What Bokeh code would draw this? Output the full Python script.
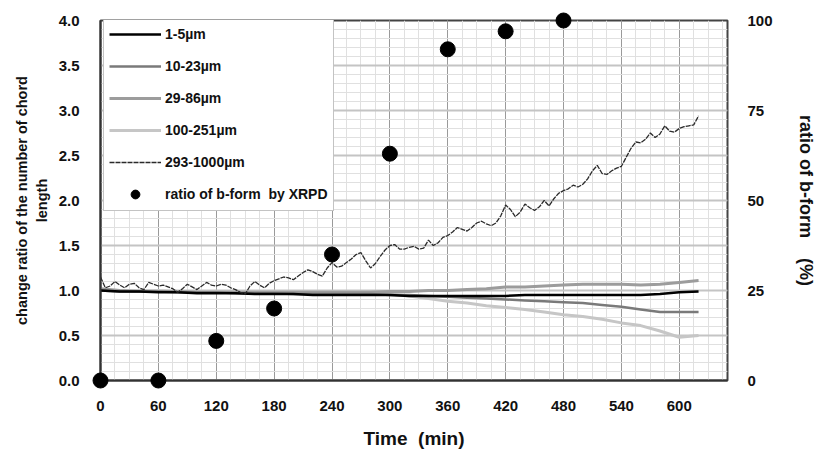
from bokeh.plotting import figure
from bokeh.models import (Range1d, LinearAxis, FixedTicker, Legend, LegendItem,
                          PrintfTickFormatter)
from bokeh.embed import file_html
from bokeh.resources import INLINE

# ---------------- data ----------------
t_noisy = [0, 5, 10, 15, 20, 25, 30, 35, 40, 45, 50, 55, 60, 65, 70, 75, 80, 85, 90, 95,
           100, 105, 110, 115, 120, 125, 130, 135, 140, 145, 150, 155, 160, 165, 170, 175,
           180, 185, 190, 195, 200, 205, 210, 215, 220, 225, 230, 235, 240, 245, 250, 255,
           260, 265, 270, 275, 280, 285, 290, 295, 300, 305, 310, 315, 320, 325, 330, 335,
           340, 345, 350, 355, 360, 365, 370, 375, 380, 385, 390, 395, 400, 405, 410, 415,
           420, 425, 430, 435, 440, 445, 450, 455, 460, 465, 470, 475, 480, 485, 490, 495,
           500, 505, 510, 515, 520, 525, 530, 535, 540, 545, 550, 555, 560, 565, 570, 575,
           580, 585, 590, 595, 600, 605, 610, 615, 620]
s_293_1000 = [1.15, 1.03, 1.05, 1.10, 1.06, 1.03, 1.07, 1.08, 1.03, 1.01, 1.09, 1.07, 1.05,
              1.06, 1.04, 1.02, 0.98, 1.02, 1.07, 1.04, 1.01, 1.05, 1.09, 1.06, 1.05, 1.07,
              1.06, 1.03, 1.01, 0.98, 0.96, 1.05, 1.10, 1.06, 1.03, 1.08, 1.11, 1.13, 1.15,
              1.14, 1.12, 1.16, 1.20, 1.23, 1.21, 1.18, 1.16, 1.25, 1.31, 1.26, 1.27, 1.31,
              1.35, 1.40, 1.42, 1.33, 1.25, 1.30, 1.38, 1.45, 1.50, 1.51, 1.46, 1.46, 1.48,
              1.49, 1.46, 1.47, 1.56, 1.50, 1.53, 1.59, 1.61, 1.65, 1.70, 1.68, 1.66, 1.70,
              1.75, 1.77, 1.74, 1.72, 1.75, 1.83, 1.95, 1.90, 1.82, 1.87, 1.96, 1.92, 1.89,
              1.93, 2.00, 1.94, 2.02, 2.08, 2.11, 2.13, 2.17, 2.15, 2.18, 2.24, 2.33, 2.39,
              2.30, 2.29, 2.33, 2.36, 2.38, 2.48, 2.58, 2.65, 2.64, 2.68, 2.75, 2.70, 2.74,
              2.83, 2.77, 2.76, 2.80, 2.82, 2.83, 2.84, 2.94]

t_smooth = [0, 20, 40, 60, 80, 100, 120, 140, 160, 180, 200, 220, 240, 260, 280, 300,
            320, 340, 360, 380, 400, 420, 440, 460, 480, 500, 520, 540, 560, 580, 600, 620]
s_1_5 = [1.00, 0.99, 0.99, 0.98, 0.98, 0.97, 0.97, 0.97, 0.96, 0.96, 0.96, 0.95, 0.95,
         0.95, 0.95, 0.95, 0.94, 0.94, 0.94, 0.94, 0.94, 0.94, 0.95, 0.95, 0.95, 0.95,
         0.95, 0.95, 0.95, 0.96, 0.98, 0.99]
s_10_23 = [1.00, 0.99, 0.99, 0.99, 0.98, 0.98, 0.98, 0.97, 0.97, 0.97, 0.96, 0.96, 0.96,
           0.96, 0.96, 0.95, 0.95, 0.94, 0.93, 0.92, 0.91, 0.90, 0.89, 0.88, 0.87, 0.86,
           0.84, 0.82, 0.79, 0.76, 0.76, 0.76]
s_29_86 = [1.02, 1.00, 0.99, 0.99, 0.99, 0.98, 0.98, 0.98, 0.98, 0.98, 0.98, 0.98, 0.98,
           0.98, 0.98, 0.99, 0.99, 1.00, 1.00, 1.01, 1.02, 1.04, 1.04, 1.05, 1.06, 1.07,
           1.07, 1.07, 1.06, 1.07, 1.09, 1.11]
s_100_251 = [1.00, 1.00, 1.00, 1.00, 0.99, 0.99, 0.99, 0.99, 0.99, 0.99, 0.98, 0.98, 0.98,
             0.97, 0.97, 0.96, 0.94, 0.91, 0.88, 0.86, 0.83, 0.81, 0.79, 0.76, 0.73, 0.71,
             0.68, 0.64, 0.61, 0.55, 0.48, 0.50]

t_xrpd = [0, 60, 120, 180, 240, 300, 360, 420, 480]
b_form_pct = [0, 0, 11, 20, 35, 63, 92, 97, 100]

x_ticks = [0, 60, 120, 180, 240, 300, 360, 420, 480, 540, 600]
y_ticks = [0.0, 0.5, 1.0, 1.5, 2.0, 2.5, 3.0, 3.5, 4.0]
pct_ticks = [0, 25, 50, 75, 100]

FONT = "Liberation Sans"

p = figure(width=818, height=451, output_backend="svg", toolbar_location=None,
           x_range=Range1d(0, 650), y_range=Range1d(0, 4.0),
           min_border_left=100, min_border_right=76, min_border_top=20,
           min_border_bottom=70, background_fill_color="white",
           border_fill_color="white")
p.extra_y_ranges = {"pct": Range1d(0, 100)}

p.outline_line_color = "#444444"
p.outline_line_width = 2

# grids
p.xaxis.ticker = FixedTicker(ticks=x_ticks, minor_ticks=[15 * i for i in range(44)])
p.yaxis.ticker = FixedTicker(ticks=y_ticks, minor_ticks=[0.1 * i for i in range(41)])
p.xgrid.grid_line_color = "#9a9a9a"
p.xgrid.grid_line_width = 1
p.ygrid.grid_line_color = "#c4c4c4"
p.ygrid.grid_line_width = 2
p.xgrid.minor_grid_line_color = "#e0e0e0"
p.ygrid.minor_grid_line_color = "#e0e0e0"

# axes styling
for ax in (p.xaxis[0], p.yaxis[0]):
    ax.major_tick_line_color = None
    ax.minor_tick_line_color = None
    ax.axis_line_color = "#333333"
    ax.axis_line_width = 2
    ax.major_label_text_font = FONT
    ax.major_label_text_font_style = "bold"
    ax.major_label_text_font_size = "15px"
    ax.major_label_text_color = "#111111"
    ax.axis_label_text_font = FONT
    ax.axis_label_text_font_style = "bold"
    ax.axis_label_text_color = "#111111"

p.yaxis[0].formatter = PrintfTickFormatter(format="%.1f")
p.yaxis[0].axis_label = "change ratio of the number of chord\nlength"
p.yaxis[0].axis_label_text_font_size = "14.5px"
p.yaxis[0].major_label_standoff = 15
p.yaxis[0].axis_label_standoff = 6

p.xaxis[0].axis_label = "Time\u00a0\u00a0(min)"
p.xaxis[0].axis_label_text_font_size = "19px"
p.xaxis[0].major_label_standoff = 14
p.xaxis[0].axis_label_standoff = 14

right = LinearAxis(y_range_name="pct", ticker=FixedTicker(ticks=pct_ticks),
                   axis_label="ratio of b-form\u00a0\u00a0\u00a0\u00a0(%)")
right.major_tick_line_color = None
right.minor_tick_line_color = None
right.axis_line_color = None
right.major_label_text_font = FONT
right.major_label_text_font_style = "bold"
right.major_label_text_font_size = "15px"
right.major_label_text_color = "#111111"
right.major_label_standoff = 14
right.axis_label_text_font = FONT
right.axis_label_text_font_style = "bold"
right.axis_label_text_font_size = "18px"
right.axis_label_text_color = "#111111"
right.axis_label_standoff = 20
p.add_layout(right, "right")

# series
r_100 = p.line(t_smooth, s_100_251, line_color="#c6c6c6", line_width=3)
r_29 = p.line(t_smooth, s_29_86, line_color="#9c9c9c", line_width=3)
r_10 = p.line(t_smooth, s_10_23, line_color="#7a7a7a", line_width=2.5)
r_1 = p.line(t_smooth, s_1_5, line_color="#000000", line_width=2.5)
r_293 = p.line(t_noisy, s_293_1000, line_color="#2a2a2a", line_width=1.3, line_dash="5 1")
r_x = p.scatter(t_xrpd, b_form_pct, y_range_name="pct", size=15, marker="circle",
                fill_color="black", line_color="black")
r_x.level = "overlay"

legend = Legend(items=[
    LegendItem(label="1-5\u00b5m", renderers=[r_1]),
    LegendItem(label="10-23\u00b5m", renderers=[r_10]),
    LegendItem(label="29-86\u00b5m", renderers=[r_29]),
    LegendItem(label="100-251\u00b5m", renderers=[r_100]),
    LegendItem(label="293-1000\u00b5m", renderers=[r_293]),
    LegendItem(label="ratio of b-form\u00a0\u00a0by XRPD", renderers=[r_x]),
], location=(3, 169))
legend.label_text_font = FONT
legend.label_text_font_style = "bold"
legend.label_text_font_size = "14px"
legend.label_text_color = "#111111"
legend.glyph_width = 52
legend.glyph_height = 22
legend.label_height = 22
legend.spacing = 10
legend.padding = 5
legend.margin = 0
legend.label_standoff = 4
legend.border_line_color = "#888888"
legend.border_line_width = 1
legend.background_fill_color = "white"
legend.background_fill_alpha = 1.0
p.add_layout(legend, "center")

open("out.html", "w").write(file_html(p, INLINE))
